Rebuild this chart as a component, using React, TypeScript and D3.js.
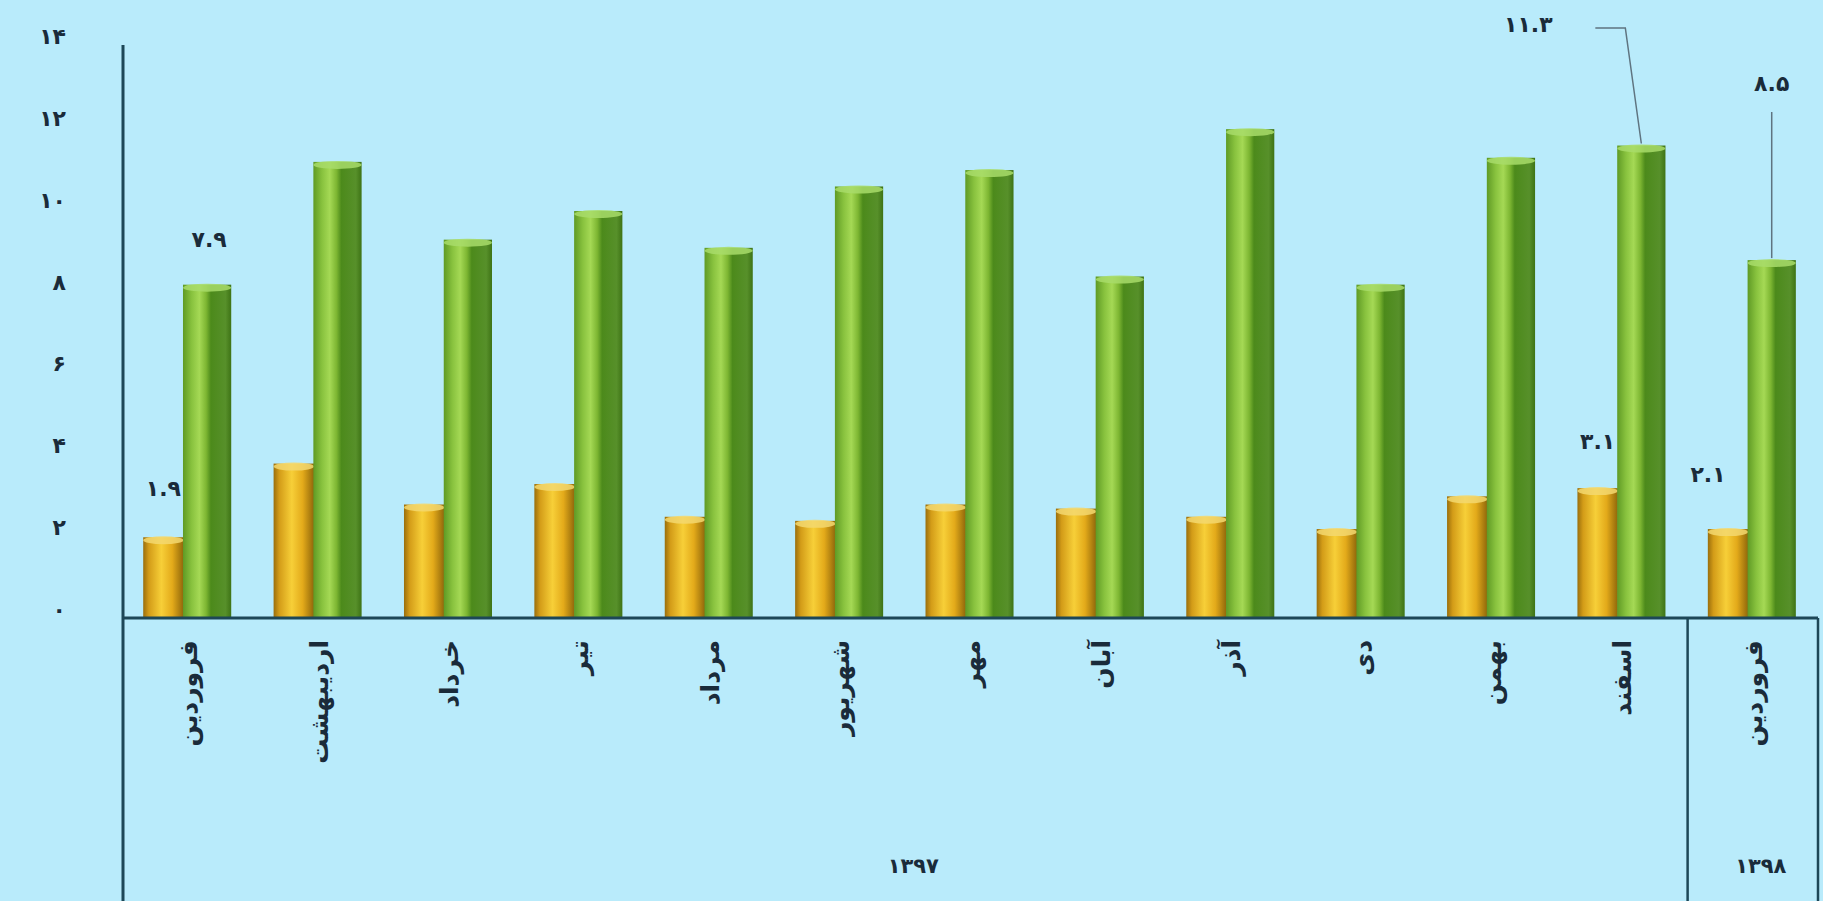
import * as d3 from "d3"
import { useEffect, useRef } from "react"

// months of 1397 and the first month of 1398
const months = [
  "فروردین",
  "اردیبهشت",
  "خرداد",
  "تیر",
  "مرداد",
  "شهریور",
  "مهر",
  "آبان",
  "آذر",
  "دی",
  "بهمن",
  "اسفند",
  "فروردین",
]
const monthYear = [
  "۱۳۹۷", "۱۳۹۷", "۱۳۹۷", "۱۳۹۷", "۱۳۹۷", "۱۳۹۷",
  "۱۳۹۷", "۱۳۹۷", "۱۳۹۷", "۱۳۹۷", "۱۳۹۷", "۱۳۹۷", "۱۳۹۸",
]
const years = ["۱۳۹۷", "۱۳۹۸"]

const yellowValues = [1.9, 3.7, 2.7, 3.2, 2.4, 2.3, 2.7, 2.6, 2.4, 2.1, 2.9, 3.1, 2.1]
const greenValues = [7.9, 10.9, 9.0, 9.7, 8.8, 10.3, 10.7, 8.1, 11.7, 7.9, 11.0, 11.3, 8.5]

const yTicks = [0, 2, 4, 6, 8, 10, 12, 14]

// bars that carry a value label
const labelledBars = [0, 11, 12]

const faDigits = "۰۱۲۳۴۵۶۷۸۹"
const toFa = (s: string) => s.replace(/[0-9]/g, (c) => faDigits[+c])

const W = 1823
const H = 901

const App = () => {
  const svgRef = useRef<SVGSVGElement | null>(null)

  useEffect(() => {
    document.body.style.margin = "0"
    if (!svgRef.current) return
    const svg = d3.select(svgRef.current)
    svg.selectAll("*").remove()

    const left = 123
    const right = 1818
    const zeroY = 618
    const topY = 45
    const ink = "#1a2b3a"
    const axisColor = "#1d4757"
    const font = "'DejaVu Sans', 'Noto Sans', sans-serif"

    svg.append("rect").attr("width", W).attr("height", H).attr("fill", "#b9ebfb")

    const defs = svg.append("defs")
    const grad = (id: string, stops: [number, string][]) => {
      const g = defs
        .append("linearGradient")
        .attr("id", id)
        .attr("x1", "0%")
        .attr("x2", "100%")
        .attr("y1", "0%")
        .attr("y2", "0%")
      stops.forEach(([o, c]) => g.append("stop").attr("offset", o).attr("stop-color", c))
    }
    grad("gYellow", [
      [0, "#9a6e0c"],
      [0.14, "#d39c18"],
      [0.45, "#f7cf38"],
      [0.72, "#e3aa1a"],
      [1, "#8f660a"],
    ])
    grad("gGreen", [
      [0, "#5f9a25"],
      [0.18, "#88c23e"],
      [0.34, "#a5d955"],
      [0.48, "#7db632"],
      [0.58, "#4c8a1b"],
      [0.88, "#57902a"],
      [1, "#3e7315"],
    ])

    const idx = months.map((_, i) => i)
    const x = d3.scaleBand<number>().domain(idx).range([left, right]).padding(0)
    const bw = x.bandwidth()
    const y = d3.scaleLinear().domain([0, 14]).range([zeroY, topY])

    const series = [
      { key: "yellow", values: yellowValues, off: 0.155, w: 0.31, fill: "url(#gYellow)", cap: "#f3d870", lift: 3 },
      { key: "green", values: greenValues, off: 0.46, w: 0.37, fill: "url(#gGreen)", cap: "#a8dc6a", lift: 10 },
    ]

    series.forEach((s) => {
      const g = svg.append("g")
      g.selectAll("rect")
        .data(s.values)
        .enter()
        .append("rect")
        .attr("x", (_, i) => x(i)! + bw * s.off)
        .attr("y", (d) => y(d) - s.lift)
        .attr("width", bw * s.w)
        .attr("height", (d) => zeroY - y(d) + s.lift)
        .attr("fill", s.fill)
      g.selectAll("ellipse")
        .data(s.values)
        .enter()
        .append("ellipse")
        .attr("cx", (_, i) => x(i)! + bw * (s.off + s.w / 2))
        .attr("cy", (d) => y(d) - s.lift + 3)
        .attr("rx", (bw * s.w) / 2)
        .attr("ry", 4)
        .attr("fill", s.cap)
        .attr("opacity", 0.85)
    })

    // axes
    svg.append("line").attr("x1", left).attr("x2", right).attr("y1", zeroY).attr("y2", zeroY)
      .attr("stroke", axisColor).attr("stroke-width", 3)
    svg.append("line").attr("x1", left).attr("x2", left).attr("y1", topY).attr("y2", H)
      .attr("stroke", axisColor).attr("stroke-width", 3)
    const sep = x(12)!
    svg.append("line").attr("x1", sep).attr("x2", sep).attr("y1", zeroY).attr("y2", H)
      .attr("stroke", axisColor).attr("stroke-width", 2.5)
    svg.append("line").attr("x1", right).attr("x2", right).attr("y1", zeroY).attr("y2", H)
      .attr("stroke", axisColor).attr("stroke-width", 2.5)

    // y tick labels
    svg.append("g")
      .selectAll("text")
      .data(yTicks)
      .enter()
      .append("text")
      .attr("x", 66)
      .attr("y", (d) => y(d) - 1)
      .attr("text-anchor", "end")
      .attr("font-family", font)
      .attr("font-weight", "bold")
      .attr("font-size", 22)
      .attr("fill", ink)
      .text((d) => toFa(String(d)))

    // month labels, vertical
    svg.append("g")
      .selectAll("text")
      .data(months)
      .enter()
      .append("text")
      .attr("transform", (_, i) => `translate(${x(i)! + bw / 2 + 9},640) rotate(-90)`)
      .attr("text-anchor", "end")
      .attr("font-family", font)
      .attr("font-weight", "bold")
      .attr("font-size", 25)
      .attr("fill", ink)
      .text((d) => d)

    // year labels centred under their months
    years.forEach((yr) => {
      const ids = idx.filter((i) => monthYear[i] === yr)
      const x0 = x(ids[0])!
      const x1 = x(ids[ids.length - 1])! + bw
      svg.append("text")
        .attr("x", (x0 + x1) / 2 + 8)
        .attr("y", 873)
        .attr("text-anchor", "middle")
        .attr("font-family", font)
        .attr("font-weight", "bold")
        .attr("font-size", 21)
        .attr("fill", ink)
        .text(yr)
    })

    // value labels
    const lbl = (tx: number, ty: number, v: number) =>
      svg.append("text")
        .attr("x", tx)
        .attr("y", ty)
        .attr("text-anchor", "middle")
        .attr("font-family", font)
        .attr("font-weight", "bold")
        .attr("font-size", 22)
        .attr("fill", ink)
        .text(toFa(v.toFixed(1)))

    const yc = (i: number) => x(i)! + bw * (0.155 + 0.155)
    const gc = (i: number) => x(i)! + bw * (0.46 + 0.185)
    const leader = "#5f7480"

    labelledBars.forEach((i) => {
      const yv = yellowValues[i]
      const gv = greenValues[i]
      if (i === 0) {
        lbl(yc(i), y(yv) - 44, yv)
        lbl(gc(i) + 2, y(gv) - 48, gv)
      } else if (i === 11) {
        lbl(yc(i), y(yv) - 42, yv)
        lbl(gc(i) - 113, 32, gv)
        svg.append("path")
          .attr("d", `M${gc(i) - 46},28 H${gc(i) - 16} L${gc(i)},${y(gv) - 12}`)
          .attr("fill", "none").attr("stroke", leader).attr("stroke-width", 1.5)
      } else {
        lbl(yc(i) - 20, y(yv) - 50, yv)
        lbl(gc(i), 91, gv)
        svg.append("line")
          .attr("x1", gc(i)).attr("x2", gc(i))
          .attr("y1", 112).attr("y2", y(gv) - 12)
          .attr("stroke", leader).attr("stroke-width", 1.5)
      }
    })
  }, [])

  return <svg ref={svgRef} width={W} height={H} style={{ display: "block" }} />
}

export default App
